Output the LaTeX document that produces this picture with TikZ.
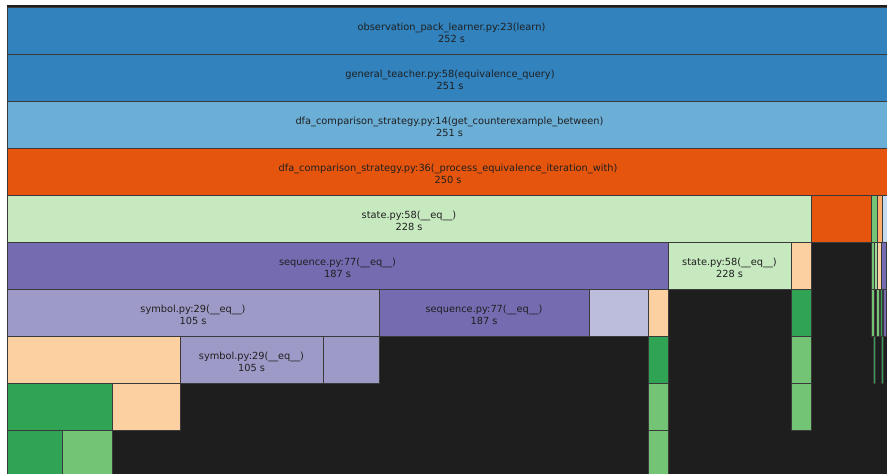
\documentclass[tikz,border=0pt]{standalone}
\usepackage{fontspec}
\setmainfont{DejaVu Sans}
\definecolor{blueA}{HTML}{3182BD}
\definecolor{blueB}{HTML}{6BAED6}
\definecolor{blueC}{HTML}{C6DBEF}
\definecolor{orangeA}{HTML}{E6550D}
\definecolor{orangeB}{HTML}{FDAE6B}
\definecolor{peach}{HTML}{FDD0A2}
\definecolor{greenA}{HTML}{31A354}
\definecolor{greenB}{HTML}{74C476}
\definecolor{greenC}{HTML}{A1D99B}
\definecolor{greenD}{HTML}{C7E9C0}
\definecolor{purpleA}{HTML}{756BB1}
\definecolor{purpleB}{HTML}{9E9AC8}
\definecolor{purpleC}{HTML}{BCBDDC}
\definecolor{canvas}{HTML}{1E1E1E}
\definecolor{edge}{HTML}{3A3A3A}

% one frame of the icicle chart: name, left x, right x, depth, fill, label
\newcommand{\flamebox}[6]{%
  \pgfmathsetmacro{\fbcx}{(#2+#3)/2}%
  \pgfmathsetmacro{\fbwd}{#3-#2}%
  \pgfmathsetmacro{\fbcy}{7+47*#4+23.5}%
  \node[cell, fill=#5, minimum width=\fbwd pt] (#1) at (\fbcx,\fbcy) {};
  \node[celltext] (#1-text) at ([yshift=-2.5pt]#1.center) {#6};}

\begin{document}
\begin{tikzpicture}[x=1pt, y=-1pt,
  cell/.style={draw=edge, line width=0.8pt, inner sep=0pt, outer sep=0pt,
    minimum height=47pt},
  celltext/.style={inner sep=0pt, align=center, text=black!88,
    font=\fontsize{9.8}{12}\selectfont}]
\useasboundingbox (0,0) rectangle (887,474);
\clip (0,0) rectangle (887,474);
\fill[canvas] (7,5) rectangle (887,474);

% depth 0-3: full-width call chain
\flamebox{learn}{7}{896}{0}{blueA}{observation\_pack\_learner.py:23(learn)\\252 s}
\flamebox{eqquery}{7}{893}{1}{blueA}{general\_teacher.py:58(equivalence\_query)\\251 s}
\flamebox{counterex}{7}{892}{2}{blueB}{dfa\_comparison\_strategy.py:14(get\_counterexample\_between)\\251 s}
\flamebox{iteration}{7}{889}{3}{orangeA}{dfa\_comparison\_strategy.py:36(\_process\_equivalence\_iteration\_with)\\250 s}

% depth 4
\flamebox{stateA}{7}{811}{4}{greenD}{state.py:58(\_\_eq\_\_)\\228 s}
\flamebox{iterB}{811}{871}{4}{orangeA}{}
\flamebox{dfourA}{871}{877}{4}{greenB}{}
\flamebox{dfourB}{877}{882}{4}{orangeB}{}
\flamebox{dfourC}{882}{892}{4}{blueC}{}

% depth 5
\flamebox{seqA}{7}{668}{5}{purpleA}{sequence.py:77(\_\_eq\_\_)\\187 s}
\flamebox{stateB}{668}{791}{5}{greenD}{state.py:58(\_\_eq\_\_)\\228 s}
\flamebox{dfiveA}{791}{811}{5}{peach}{}
\flamebox{dfiveB}{871}{874}{5}{greenB}{}
\flamebox{dfiveC}{874}{877}{5}{greenC}{}
\flamebox{dfiveD}{877}{881}{5}{peach}{}
\flamebox{dfiveE}{881}{886}{5}{purpleA}{}
\flamebox{dfiveF}{886}{892}{5}{purpleB}{}

% depth 6
\flamebox{symA}{7}{379}{6}{purpleB}{symbol.py:29(\_\_eq\_\_)\\105 s}
\flamebox{seqB}{379}{589}{6}{purpleA}{sequence.py:77(\_\_eq\_\_)\\187 s}
\flamebox{dsixA}{589}{648}{6}{purpleC}{}
\flamebox{dsixB}{648}{668}{6}{peach}{}
\flamebox{dsixC}{791}{811}{6}{greenA}{}
\flamebox{dsixD}{871}{874}{6}{greenB}{}
\flamebox{dsixE}{876}{879}{6}{greenB}{}
\flamebox{dsixF}{880}{882}{6}{greenA}{}
\flamebox{dsixG}{883}{886}{6}{purpleA}{}

% depth 7
\flamebox{dsevA}{7}{180}{7}{peach}{}
\flamebox{symB}{180}{323}{7}{purpleB}{symbol.py:29(\_\_eq\_\_)\\105 s}
\flamebox{dsevB}{323}{379}{7}{purpleB}{}
\flamebox{dsevC}{648}{668}{7}{greenA}{}
\flamebox{dsevD}{791}{811}{7}{greenB}{}
\flamebox{dsevE}{873}{875}{7}{greenA}{}
\flamebox{dsevF}{881}{883}{7}{greenA}{}

% depth 8
\flamebox{deigA}{7}{112}{8}{greenA}{}
\flamebox{deigB}{112}{180}{8}{peach}{}
\flamebox{deigC}{648}{668}{8}{greenB}{}
\flamebox{deigD}{791}{811}{8}{greenB}{}

% depth 9
\flamebox{dninA}{7}{62}{9}{greenA}{}
\flamebox{dninB}{62}{112}{9}{greenB}{}
\flamebox{dninC}{648}{668}{9}{greenB}{}
\end{tikzpicture}
\end{document}
